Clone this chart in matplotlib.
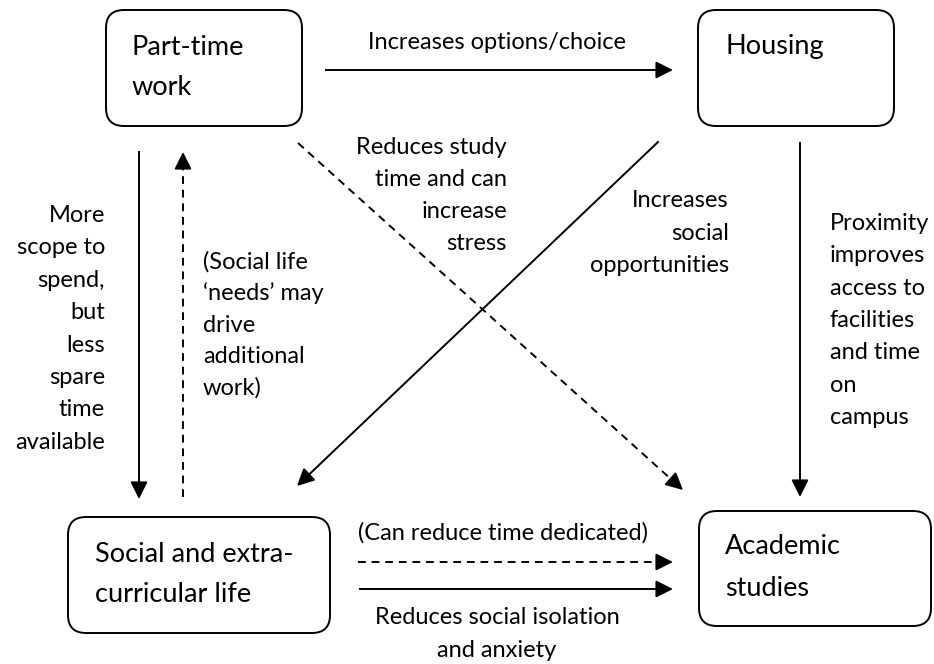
import matplotlib
matplotlib.use("Agg")
import matplotlib.pyplot as plt
from matplotlib.patches import FancyBboxPatch, FancyArrowPatch

plt.rcParams['font.family'] = ['Lato', 'DejaVu Sans']

# texts of the diagram
box_parttime = ["Part-time", "work"]
box_housing = ["Housing"]
box_social = ["Social and extra-", "curricular life"]
box_academic = ["Academic", "studies"]

lbl_top = ["Increases options/choice"]
lbl_left = ["More", "scope to", "spend,", "but", "less", "spare", "time", "available"]
lbl_left_dash = ["(Social life", "\u2018needs\u2019 may", "drive", "additional", "work)"]
lbl_diag_dash = ["Reduces study", "time and can", "increase", "stress"]
lbl_diag_solid = ["Increases", "social", "opportunities"]
lbl_right = ["Proximity", "improves", "access to", "facilities", "and time", "on", "campus"]
lbl_bottom_dash = ["(Can reduce time dedicated)"]
lbl_bottom_solid = ["Reduces social isolation", "and anxiety"]

BOX_FS = 19.5
ANN_FS = 17
LW = 1.4

fig = plt.figure(figsize=(9.34, 6.64), dpi=100)
ax = fig.add_axes([0, 0, 1, 1])
ax.set_xlim(0, 934)
ax.set_ylim(664, 0)
ax.axis('off')


# rounded box with its label lines
def draw_box(x0, y0, x1, y1, lines, tx, ty, step=40):
    ax.add_patch(FancyBboxPatch((x0, y0), x1 - x0, y1 - y0,
                                boxstyle="round,pad=0,rounding_size=18",
                                fc='white', ec='black', lw=LW))
    for i, s in enumerate(lines):
        ax.text(tx, ty + i * step + 9, s, fontsize=BOX_FS, ha='left', va='baseline')


# stacked annotation lines
def draw_lines(lines, x, y, step=32, ha='left'):
    for i, s in enumerate(lines):
        ax.text(x, y + i * step + 7, s, fontsize=ANN_FS, ha=ha, va='baseline')


# arrow with filled head; dashed shaft optional
def draw_arrow(p0, p1, dashed=False):
    x0, y0 = p0
    x1, y1 = p1
    ls = (0, (4, 3)) if dashed else '-'
    dx, dy = x1 - x0, y1 - y0
    d = (dx ** 2 + dy ** 2) ** 0.5
    hx, hy = x1 - dx / d * 16, y1 - dy / d * 16
    ax.plot([x0, hx], [y0, hy], color='black', lw=LW, linestyle=ls)
    ax.add_patch(FancyArrowPatch((hx, hy), (x1, y1), arrowstyle='-|>',
                                 mutation_scale=26, color='black', lw=LW,
                                 shrinkA=0, shrinkB=0))


draw_box(106, 10, 302, 126, box_parttime, 132, 46)
draw_box(698, 10, 894, 126, box_housing, 726, 45)
draw_box(68, 517, 330, 633, box_social, 95, 553)
draw_box(699, 511, 931, 626, box_academic, 725, 545, step=42)

draw_arrow((326, 70), (673, 70))
draw_arrow((139, 152), (139, 499))
draw_arrow((183, 497), (183, 152), dashed=True)
draw_arrow((298, 143), (683, 490), dashed=True)
draw_arrow((658, 142), (297, 486))
draw_arrow((800, 143), (800, 497))
draw_arrow((358, 562), (673, 562), dashed=True)
draw_arrow((360, 589), (673, 589))

draw_lines(lbl_top, 368, 42)
draw_lines(lbl_left, 105, 215, step=32.4, ha='right')
draw_lines(lbl_left_dash, 203, 262, step=31.3)
draw_lines(lbl_diag_dash, 507, 147, ha='right')
draw_lines(lbl_diag_solid, 729, 200, step=32.5, ha='right')
draw_lines(lbl_right, 830, 223, step=32.3)
draw_lines(lbl_bottom_dash, 358, 533)
draw_lines(lbl_bottom_solid, 497, 617, step=33, ha='center')

fig.savefig('out.png', dpi=100)
